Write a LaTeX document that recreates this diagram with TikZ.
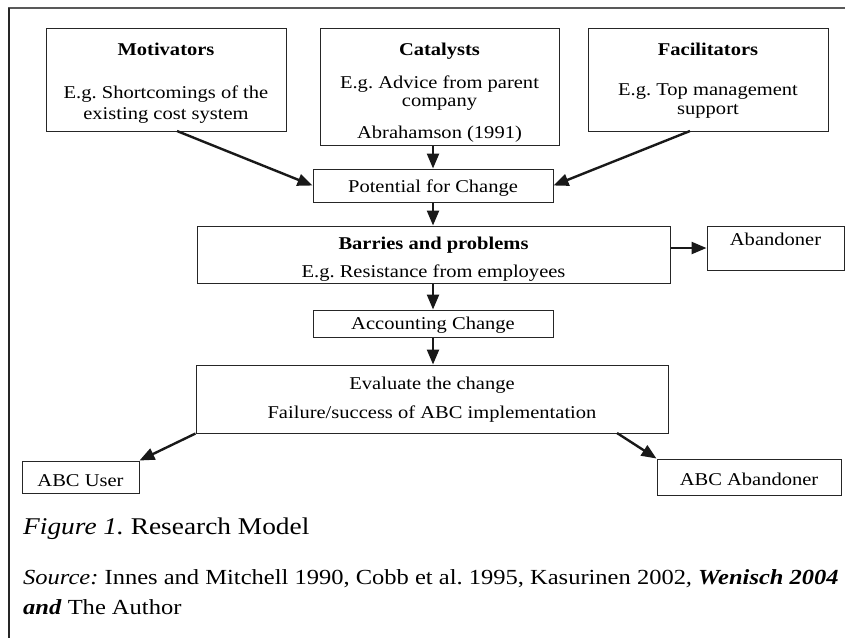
\documentclass[tikz,border=0pt]{standalone}
\usepackage{fontspec}
\setmainfont{Liberation Serif}[FakeStretch=1.14]
\frenchspacing
\usetikzlibrary{arrows.meta}
\begin{document}
\begin{tikzpicture}[x=1pt,y=-1pt,
  box/.style={draw=black!85, line width=1pt, inner sep=0pt, rectangle},
  txt/.style={anchor=base, inner sep=0pt, font=\fontsize{18}{20}\selectfont},
  ttl/.style={anchor=base, inner sep=0pt, font=\fontsize{18}{20}\selectfont\bfseries},
  arr/.style={-{Triangle[length=15pt,width=12pt]}, line width=2.4pt, black!90},
  captext/.style={anchor=base west, inner sep=0pt}]
\useasboundingbox (0,0) rectangle (845,638);
% frame
\draw[black!65, line width=2pt] (8,7.5) -- (845,7.5);
\draw[black!85, line width=1.2pt] (9,7.5) -- (9,638);
% boxes
\node[box, minimum width=240pt, minimum height=103pt] (mot) at (166,79.5) {};
\node[box, minimum width=239pt, minimum height=117pt] (cat) at (439.5,86.5) {};
\node[box, minimum width=240pt, minimum height=103pt] (fac) at (708,79.5) {};
\node[box, minimum width=240pt, minimum height=33pt] (pot) at (433,185.5) {};
\node[box, minimum width=473pt, minimum height=57pt] (bar) at (433.5,254.5) {};
\node[box, minimum width=137pt, minimum height=44pt] (aban) at (775.5,248) {};
\node[box, minimum width=240pt, minimum height=27pt] (acc) at (433,323.5) {};
\node[box, minimum width=472pt, minimum height=68pt] (eva) at (432,399) {};
\node[box, minimum width=117pt, minimum height=32pt] (user) at (80.5,477) {};
\node[box, minimum width=184pt, minimum height=36pt] (abab) at (749,477) {};
% texts
\node[ttl] (t1) at (166,55) {Motivators};
\node[txt] (t2) at (166,98) {E.g. Shortcomings of the};
\node[txt] (t3) at (166,119) {existing cost system};
\node[ttl] (t4) at (439.5,55) {Catalysts};
\node[txt] (t5) at (439.5,88) {E.g. Advice from parent};
\node[txt] (t6) at (439.5,106.5) {company};
\node[txt] (t7) at (439.5,138) {Abrahamson (1991)};
\node[ttl] (t8) at (708,55) {Facilitators};
\node[txt] (t9) at (708,95.5) {E.g. Top management};
\node[txt] (t10) at (708,114.5) {support};
\node[txt] (t11) at (433,192) {Potential for Change};
\node[ttl] (t12) at (433.5,249) {Barries and problems};
\node[txt] (t13) at (433.5,277) {E.g. Resistance from employees};
\node[txt] (t14) at (775.5,245) {Abandoner};
\node[txt] (t15) at (433,329) {Accounting Change};
\node[txt] (t16) at (432,389) {Evaluate the change};
\node[txt] (t17) at (432,418) {Failure/success of ABC implementation};
\node[txt] (t18) at (80.5,486) {ABC User};
\node[txt] (t19) at (749,485) {ABC Abandoner};
% caption
\node[captext, font=\fontsize{24}{27}\selectfont] (c1) at (23,534) {\textit{Figure 1.} Research Model};
\node[captext, font=\fontsize{21.5}{24}\selectfont] (c2) at (23,584) {\textit{Source:} Innes and Mitchell 1990, Cobb et al. 1995, Kasurinen 2002\textit{,} \textbf{\textit{Wenisch 2004}}};
\node[captext, font=\fontsize{21.5}{24}\selectfont] (c3) at (23,614) {\textbf{\textit{and}} The Author};
% connectors
\coordinate (m1) at (177,131);
\coordinate (f1) at (690,131);
\coordinate (e1) at (617,433);
\draw[arr] (m1) -- (pot.west);
\draw[arr] (f1) -- (pot.east);
\draw[arr] (pot.north |- cat.south) -- (pot.north);
\draw[arr] (pot.south) -- (bar.north -| pot.south);
\draw[arr] (bar.east |- aban.west) -- (aban.west);
\draw[arr] (acc.north |- bar.south) -- (acc.north);
\draw[arr] (acc.south) -- (eva.north -| acc.south);
\draw[arr] (eva.south west) -- (user.north east);
\draw[arr] (e1) -- (abab.north west);
\end{tikzpicture}
\end{document}
